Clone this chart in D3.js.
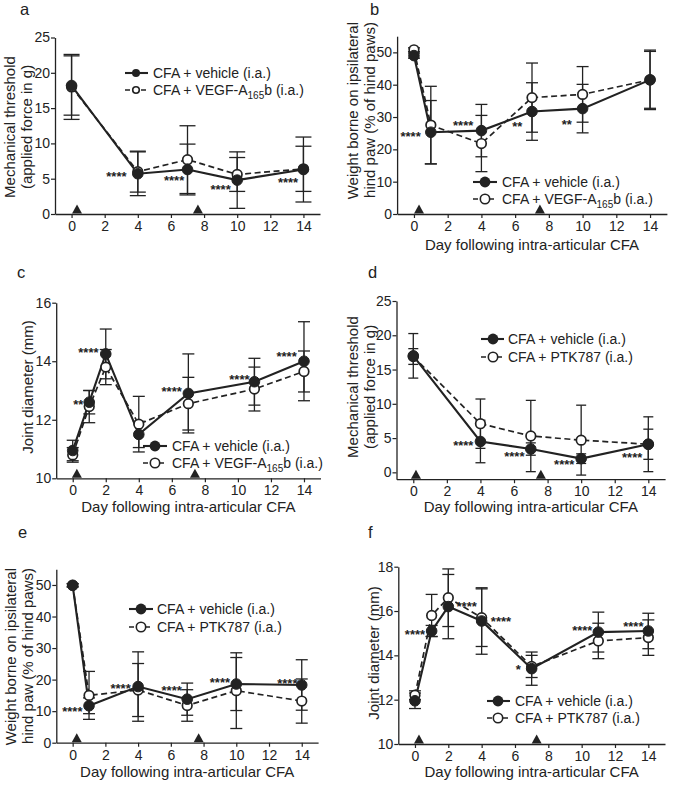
<!DOCTYPE html>
<html><head><meta charset="utf-8">
<script src="https://cdn.jsdelivr.net/npm/d3@7"></script>
<style>
body{margin:0;background:#fff}
svg{display:block}
text{font-family:"Liberation Sans",Arial,Helvetica,sans-serif;fill:#222}
</style>
</head><body>
<svg id="chart" width="695" height="785"></svg>
<script>
// ---------------- DATA ----------------
const xTicks = [0,2,4,6,8,10,12,14];
const legendVehicle = "CFA + vehicle (i.a.)";
const legendVegf = ["CFA + VEGF-A", "165", "b (i.a.)"];
const legendPtk = "CFA + PTK787 (i.a.)";
const xTitle = "Day following intra-articular CFA";

// panel a: mechanical threshold, VEGF-A165b
const daysA = [0,4,7,10,14];
const aVehicle = [18.2,5.7,6.3,4.8,6.3];
const aVehicleErr = [4.2,3.1,3.6,4.0,4.6];
const aDrug = [18.0,6.0,7.7,5.6,6.4];
const aDrugErr = [4.6,2.9,4.8,2.4,3.2];
const aYTicks = [0,5,10,15,20,25];
const aStars = [[2.71,5.66,"****"],[6.19,5.05,"****"],[9.0,3.78,"****"],[13.07,4.81,"****"]];
const aArrows = [0.33,7.63];

// panel b: weight bearing, VEGF-A165b
const daysB = [0,1,4,7,10,14];
const bVehicle = [49.0,25.3,25.8,31.7,32.6,41.5];
const bVehicleErr = [0.8,9.8,8.1,8.9,7.5,8.8];
const bDrug = [50.8,27.5,21.8,36.0,37.0,41.5];
const bDrugErr = [0.6,12.0,8.7,10.7,8.6,9.2];
const bYTicks = [0,10,20,30,40,50];
const bStars = [[-0.2,24.6,"****"],[2.92,28.2,"****"],[6.13,27.7,"**"],[9.06,28.5,"**"]];
const bArrows = [0.3,7.47];

// panel c: joint diameter, VEGF-A165b
const daysC = [0,1,2,4,7,11,14];
const cVehicle = [10.95,12.6,14.25,11.5,12.9,13.3,14.0];
const cVehicleErr = [0.35,0.4,0.85,0.45,1.35,0.8,1.35];
const cDrug = [10.8,12.45,13.8,11.85,12.55,13.05,13.65];
const cDrugErr = [0.25,0.55,0.6,0.95,0.9,0.75,0.7];
const cYTicks = [10,12,14,16];
const cStars = [[0.34,12.62,"**"],[0.95,14.38,"****"],[5.99,13.04,"****"],[10.09,13.47,"****"],[12.95,14.25,"****"]];
const cArrows = [0.25,7.4];

// panel d: mechanical threshold, PTK787
const daysD = [0,4,7,10,14];
const dVehicle = [17.0,4.5,3.4,2.0,4.1];
const dVehicleErr = [3.25,3.1,0.9,0.7,4.0];
const dDrug = [16.9,7.1,5.3,4.7,4.1];
const dDrugErr = [1.15,3.6,5.2,5.1,2.2];
const dYTicks = [0,5,10,15,20,25];
const dStars = [[2.98,4.23,"****"],[6.02,2.62,"****"],[8.99,1.45,"****"],[13.04,2.52,"****"]];
const dArrows = [0.16,7.6];

// panel e: weight bearing, PTK787
const daysE = [0,1,4,7,10,14];
const eVehicle = [49.9,11.7,17.8,13.8,18.6,18.3];
const eVehicleErr = [0.5,2.5,11.0,5.1,8.4,8.0];
const eDrug = [49.9,15.0,16.7,11.8,16.5,13.2];
const eDrugErr = [0.5,7.6,8.4,5.0,12.0,7.0];
const eYTicks = [0,10,20,30,40,50];
const eStars = [[-0.02,10.7,"****"],[2.93,18.0,"****"],[6.05,17.4,"****"],[9.0,19.9,"****"],[13.12,19.7,"****"]];
const eArrows = [0.25,7.7];

// panel f: joint diameter, PTK787
const daysF = [0,1,2,4,7,11,14];
const fVehicle = [11.95,15.1,16.2,15.55,13.4,15.05,15.1];
const fVehicleErr = [0.35,0.25,1.45,1.5,0.75,0.9,0.8];
const fDrug = [12.2,15.8,16.6,15.7,13.5,14.65,14.8];
const fDrugErr = [0.2,0.95,1.3,1.3,0.5,0.8,0.8];
const fYTicks = [10,12,14,16,18];
const fStars = [[0,15.07,"****"],[3.1,16.3,"****"],[5.16,15.64,"****"],[6.2,13.49,"*"],[10.04,15.22,"****"],[13.1,15.4,"****"]];
const fArrows = [0.24,7.3];

// ---------------- LAYOUT ----------------
const INK = "#222";
const panels = [
  {id:"a", days:daysA, veh:aVehicle, vehE:aVehicleErr, drug:aDrug, drugE:aDrugErr, yTicks:aYTicks, stars:aStars, arrows:aArrows,
   drugName:"vegf", x0:55, x1:320, y0:214, y1:37.5, yDom:[0,25], yTitle:["Mechanical threshold","(applied force in g)"],
   yTitleX:[9,26], yTitleY:127, yAnchor:"middle", xTitleY:null, label:[20,15], leg:{y:[73,90], lx:[125,148], mx:136, tx:153, r:3.6}, cap:8},
  {id:"b", days:daysB, veh:bVehicle, vehE:bVehicleErr, drug:bDrug, drugE:bDrugErr, yTicks:bYTicks, stars:bStars, arrows:bArrows,
   drugName:"vegf", x0:397.1, x1:666.9, y0:214, y1:36.2, yDom:[0,55], yTitle:["Weight borne on ipsilateral","hind paw (% of hind paws)"],
   yTitleX:[352,369], yTitleY:22, yAnchor:"end", xTitleY:245, label:[370,14.5], leg:{y:[182,199], lx:[473,497], mx:485, tx:502, r:5}, cap:6},
  {id:"c", days:daysC, veh:cVehicle, vehE:cVehicleErr, drug:cDrug, drugE:cDrugErr, yTicks:cYTicks, stars:cStars, arrows:cArrows,
   drugName:"vegf", x0:56.2, x1:320.5, y0:478.3, y1:302.7, yDom:[10,16], yTitle:["Joint diameter (mm)"],
   yTitleX:[27], yTitleY:387, yAnchor:"middle", xTitleY:507, label:[17,278], leg:{y:[446,463], lx:[143,167], mx:155, tx:172, r:5}, cap:6},
  {id:"d", days:daysD, veh:dVehicle, vehE:dVehicleErr, drug:dDrug, drugE:dDrugErr, yTicks:dYTicks, stars:dStars, arrows:dArrows,
   drugName:"ptk", x0:396.5, x1:665.1, y0:479.2, y1:301, yDom:[-1,25], yTitle:["Mechanical threshold","(applied force in g)"],
   yTitleX:[352,369], yTitleY:387, yAnchor:"middle", xTitleY:507, label:[368,278], leg:{y:[339,357], lx:[481,504], mx:493, tx:508, r:5}, cap:5},
  {id:"e", days:daysE, veh:eVehicle, vehE:eVehicleErr, drug:eDrug, drugE:eDrugErr, yTicks:eYTicks, stars:eStars, arrows:eArrows,
   drugName:"ptk", x0:56.3, x1:318.1, y0:742.7, y1:569.2, yDom:[0,55], yTitle:["Weight borne on ipsilateral","hind paw (% of hind paws)"],
   yTitleX:[10,27], yTitleY:568, yAnchor:"end", xTitleY:772, label:[18,538], leg:{y:[609,627], lx:[129,153], mx:141, tx:157, r:5}, cap:6},
  {id:"f", days:daysF, veh:fVehicle, vehE:fVehicleErr, drug:fDrug, drugE:fDrugErr, yTicks:fYTicks, stars:fStars, arrows:fArrows,
   drugName:"ptk", x0:398.3, x1:665, y0:744, y1:566.7, yDom:[10,18], yTitle:["Joint diameter (mm)"],
   yTitleX:[373], yTitleY:653, yAnchor:"middle", xTitleY:772, label:[368,538], leg:{y:[701,718], lx:[487,510], mx:498, tx:515, r:5}, cap:6}
];

const svg = d3.select("#chart");
const fmt = d3.format("d");

function drugLabel(sel, kind){
  if(kind === "vegf"){
    sel.append("tspan").text(legendVegf[0]);
    sel.append("tspan").attr("dy",4).attr("font-size",10).text(legendVegf[1]);
    sel.append("tspan").attr("dy",-4).text(legendVegf[2]);
  } else {
    sel.text(legendPtk);
  }
}

panels.forEach(p => {
  const g = svg.append("g");
  const x = d3.scaleLinear().domain([-1,15]).range([p.x0,p.x1]);
  const y = d3.scaleLinear().domain(p.yDom).range([p.y0,p.y1]);

  // axes
  const xa = g.append("g").attr("transform",`translate(0,${p.y0})`)
    .call(d3.axisBottom(x).tickValues(xTicks).tickFormat(fmt).tickSize(4).tickPadding(3).tickSizeOuter(0));
  const ya = g.append("g").attr("transform",`translate(${p.x0},0)`)
    .call(d3.axisLeft(y).tickValues(p.yTicks).tickFormat(fmt).tickSize(4).tickPadding(1).tickSizeOuter(0));
  [xa,ya].forEach(a=>{
    a.select(".domain").attr("stroke",INK).attr("stroke-width",1.3);
    a.selectAll(".tick line").attr("stroke",INK).attr("stroke-width",1.2);
    a.selectAll(".tick text").attr("font-size",14).attr("fill",INK)
      .attr("font-family",'"Liberation Sans",Arial,sans-serif');
  });

  // arrows (triangles on x axis)
  g.selectAll(".arr").data(p.arrows).enter().append("path")
    .attr("d", d => { const cx=x(d), by=p.y0-0.5; return `M${cx-5},${by}L${cx+5},${by}L${cx},${by-9}Z`; })
    .attr("fill",INK);

  const series = [
    {vals:p.veh, err:p.vehE, dash:null, open:false},
    {vals:p.drug, err:p.drugE, dash:"6,3.5", open:true}
  ];

  // error bars
  series.forEach(s => {
    const eg = g.append("g").attr("stroke",INK).attr("stroke-width",1.3).attr("fill","none");
    p.days.forEach((d,i) => {
      const cx = x(d), lo = y(s.vals[i]-s.err[i]), hi = y(s.vals[i]+s.err[i]);
      eg.append("line").attr("x1",cx).attr("x2",cx).attr("y1",lo).attr("y2",hi);
      eg.append("line").attr("x1",cx-p.cap).attr("x2",cx+p.cap).attr("y1",lo).attr("y2",lo);
      eg.append("line").attr("x1",cx-p.cap).attr("x2",cx+p.cap).attr("y1",hi).attr("y2",hi);
    });
  });

  // lines
  const line = d3.line().x(d=>x(d[0])).y(d=>y(d[1]));
  series.slice().reverse().forEach(s => {
    g.append("path").datum(p.days.map((d,i)=>[d,s.vals[i]]))
      .attr("d",line).attr("fill","none").attr("stroke",INK)
      .attr("stroke-width", s.open?1.7:2.1)
      .attr("stroke-dasharray", s.dash);
  });
  // markers
  series.slice().reverse().forEach(s => {
    g.selectAll(null).data(p.days.map((d,i)=>[d,s.vals[i]])).enter().append("circle")
      .attr("cx",d=>x(d[0])).attr("cy",d=>y(d[1]))
      .attr("r", s.open?4.8:5.3)
      .attr("fill", s.open?"#fff":INK)
      .attr("stroke",INK).attr("stroke-width", s.open?1.7:1);
  });

  // significance stars
  g.selectAll(null).data(p.stars).enter().append("text")
    .attr("x",d=>x(d[0])).attr("y",d=>y(d[1])+7)
    .attr("text-anchor","middle").attr("font-size",13).attr("font-weight","bold")
    .text(d=>d[2]);

  // legend
  const L = p.leg;
  const lg = g.append("g");
  lg.append("line").attr("x1",L.lx[0]).attr("x2",L.lx[1]).attr("y1",L.y[0]).attr("y2",L.y[0])
    .attr("stroke",INK).attr("stroke-width",2.1);
  lg.append("circle").attr("cx",L.mx).attr("cy",L.y[0]).attr("r",L.r+0.4).attr("fill",INK);
  lg.append("text").attr("x",L.tx).attr("y",L.y[0]).attr("dy","0.36em").attr("font-size",14).text(legendVehicle);
  lg.append("line").attr("x1",L.lx[0]).attr("x2",L.lx[1]).attr("y1",L.y[1]).attr("y2",L.y[1])
    .attr("stroke",INK).attr("stroke-width",1.7).attr("stroke-dasharray","5,3");
  lg.append("circle").attr("cx",L.mx).attr("cy",L.y[1]).attr("r",L.r-0.3).attr("fill","#fff")
    .attr("stroke",INK).attr("stroke-width",1.6);
  const dt = lg.append("text").attr("x",L.tx).attr("y",L.y[1]).attr("dy","0.36em").attr("font-size",14);
  drugLabel(dt, p.drugName);

  // y title
  p.yTitle.forEach((t,i) => {
    g.append("text").attr("transform",`translate(${p.yTitleX[i]},${p.yTitleY}) rotate(-90)`)
      .attr("text-anchor",p.yAnchor).attr("dominant-baseline","central").attr("font-size",15).text(t);
  });
  // x title
  if(p.xTitleY !== null){
    g.append("text").attr("x",(p.x0+p.x1)/2).attr("y",p.xTitleY).attr("dy","0.36em")
      .attr("text-anchor","middle").attr("font-size",15).text(xTitle);
  }
  // panel letter
  g.append("text").attr("x",p.label[0]).attr("y",p.label[1]).attr("font-size",16.5).text(p.id);
});
</script>
</body></html>
